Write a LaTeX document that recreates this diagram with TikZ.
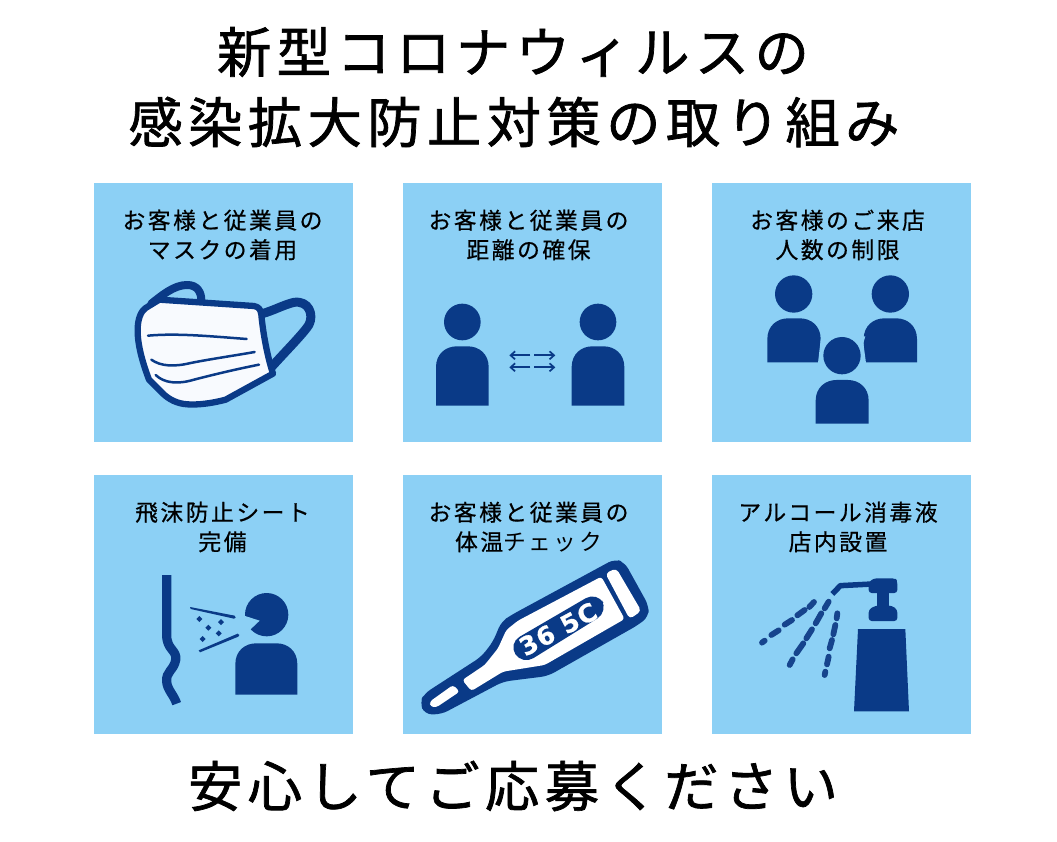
\documentclass[tikz,border=0pt]{standalone}
\usepackage{fontspec}
\usetikzlibrary{arrows.meta}
\newfontfamily\jptitle[LetterSpace=10,FakeBold=1.3]{Noto Sans CJK JP}
\newfontfamily\jplabel[LetterSpace=11,FakeBold=0.5]{Noto Sans CJK JP}
\newfontfamily\jpthin[LetterSpace=11]{Noto Sans CJK JP}
\newfontfamily\numfont[LetterSpace=6,FakeBold=0.8]{DejaVu Sans Bold}
\definecolor{panelblue}{HTML}{8CD0F5}
\definecolor{navy}{HTML}{0A3A87}
\definecolor{maskwhite}{HTML}{F8FAFE}
\tikzset{
 x=1pt,y=-1pt,
 panel/.style={fill=panelblue,draw=none,minimum width=259pt,minimum height=259pt,anchor=north west,inner sep=0pt,outer sep=0pt},
 titletext/.style={font=\jptitle\fontsize{54.3}{70}\selectfont,inner sep=0pt,align=center,text=black},
 labeltext/.style={font=\jplabel\fontsize{22.8}{29.5}\selectfont,inner sep=0pt,align=center,text=black},
 dbarrow/.style={draw=navy,line width=1.7pt,-{Straight Barb[length=4.5pt,width=8pt,line width=1.7pt]}},
 spray/.style={draw=navy!95!white,line width=5.8pt,line cap=round},
}
\newcommand{\bustfig}[4]{% left x, top y, width, height (zoom units)
 \fill[navy] (#1,#2+#4) -- (#1,#2+62)
   .. controls (#1,#2+22) and (#1+30,#2) .. (#1+62,#2)
   -- (#1+#3-62,#2)
   .. controls (#1+#3-30,#2) and (#1+#3,#2+22) .. (#1+#3,#2+62)
   -- (#1+#3,#2+#4) -- cycle;}
\begin{document}
\begin{tikzpicture}
\useasboundingbox (0,0) rectangle (1057,842);
\fill[white] (0,0) rectangle (1057,842);
\node[titletext] (t1) at (513,52) {新型コロナウィルスの};
\node[titletext] (t2) at (514,122) {感染拡大防止対策の取り組み};
\node[titletext] (t3) at (513,786) {安心してご応募ください};
\node[panel] (p1) at (94,183) {};
\node[panel] (p2) at (403,183) {};
\node[panel] (p3) at (712,183) {};
\node[panel] (p4) at (94,475) {};
\node[panel] (p5) at (403,475) {};
\node[panel] (p6) at (712,475) {};
\node[labeltext] (l1) at (222.5,235) {お客様と従業員の\\マスクの着用};
\node[labeltext] (l2) at (528.5,235) {お客様と従業員の\\距離の確保};
\node[labeltext] (l3) at (837.5,235) {お客様のご来店\\人数の制限};
\node[labeltext] (l4) at (222.5,527) {飛沫防止シート\\完備};
\node[labeltext] (l5) at (528.5,527) {お客様と従業員の\\体温{\jpthin チェック}};
\node[labeltext] (l6) at (838,527) {アルコール消毒液\\店内設置};
% ---- mask
\begin{scope}[shift={(94,183)},x=0.33333pt,y=-0.33333pt]
 \draw[navy,line width=9pt,line cap=round,line join=round] (505,392) .. controls (540,382) and (570,365) .. (600,358)
   .. controls (645,352) and (660,395) .. (645,425) .. controls (630,450) and (570,510) .. (530,555);
 \draw[navy,line width=8pt,line join=round,line cap=round] (172,362) .. controls (200,340) and (240,305) .. (280,306)
   .. controls (310,306) and (322,328) .. (322,352);
 \fill[panelblue] (243,340) .. controls (255,328) and (275,318) .. (295,328) -- (306,348) -- cycle;
 \draw[navy,fill=maskwhite,line width=6.3pt,line join=round] (196,350) -- (480,369)
   .. controls (495,372) and (500,380) .. (502,395)
   .. controls (507,450) and (520,520) .. (537,572)
   -- (395,650) .. controls (350,662) and (310,666) .. (280,664)
   .. controls (250,662) and (225,650) .. (205,630)
   -- (165,590) .. controls (150,550) and (130,490) .. (131,440)
   .. controls (131,410) and (140,385) .. (155,375) -- cycle;
 \draw[navy,line width=2.5pt,line cap=round] (162,458) .. controls (250,450) and (350,460) .. (458,468);
 \draw[navy,line width=2.5pt,line cap=round] (172,530) .. controls (200,550) and (240,552) .. (290,540) .. controls (350,528) and (420,518) .. (482,507);
 \draw[navy,line width=2.5pt,line cap=round] (185,576) .. controls (210,600) and (250,605) .. (300,590) .. controls (370,572) and (430,558) .. (495,545);
\end{scope}
% ---- distance
\begin{scope}[shift={(403,183)},x=0.33333pt,y=-0.33333pt]
 \fill[navy] (178,417) circle[radius=55];
 \fill[navy] (585,417) circle[radius=55];
 \bustfig{99}{490}{158}{178}
 \bustfig{506}{490}{158}{178}
 \coordinate (a1) at (382,517); \coordinate (a2) at (319,517);
 \coordinate (a3) at (394,517); \coordinate (a4) at (457,517);
 \coordinate (a5) at (382,553); \coordinate (a6) at (319,553);
 \coordinate (a7) at (394,553); \coordinate (a8) at (457,553);
 \draw[dbarrow] (a1) -- (a2);
 \draw[dbarrow] (a3) -- (a4);
 \draw[dbarrow] (a5) -- (a6);
 \draw[dbarrow] (a7) -- (a8);
\end{scope}
% ---- three people
\begin{scope}[shift={(712,183)},x=0.33333pt,y=-0.33333pt]
 \fill[navy] (245,333) circle[radius=56];
 \fill[navy] (535,333) circle[radius=56];
 \bustfig{166}{406}{160}{132}
 \bustfig{455}{406}{160}{132}
 \fill[panelblue] (318,540) -- (326,470) -- (340,460) -- (460,460) -- (454,480) -- (462,540) -- cycle;
 \fill[navy] (390,518) circle[radius=56];
 \bustfig{311}{591}{159}{131}
\end{scope}
% ---- droplets
\begin{scope}[shift={(94,475)},x=0.33333pt,y=-0.33333pt]
 \draw[navy,line width=9.2pt] (218,300) -- (218,480) .. controls (218,525) and (250,525) .. (245,555)
   .. controls (240,585) and (215,590) .. (218,620) .. controls (220,645) and (240,660) .. (248,686);
 \fill[navy] (518,419) circle[radius=65];
 \fill[panelblue] (444,420) -- (497,437) -- (460,472) -- (430,470) -- cycle;
 \bustfig{424}{505}{186}{154}
 \fill[navy] (288,396) -- (422,422) -- (425,428) -- (420,431) -- (290,402) -- cycle;
 \fill[navy] (314,526) -- (431,476) -- (436,480) -- (433,485) -- (318,532) -- cycle;
 \foreach \dx/\dy in {316/432,381/441,343/458,374/475,326/492}{
  \fill[navy] (\dx,\dy-9) -- (\dx+9,\dy) -- (\dx,\dy+9) -- (\dx-9,\dy) -- cycle;}
\end{scope}
% ---- thermometer
\begin{scope}[shift={(403,475)},x=0.33333pt,y=-0.33333pt]
 \fill[navy,rounded corners=7pt] (50,682) -- (65,655) -- (235,545) -- (270,500) -- (295,440) -- (325,420)
   -- (635,252) -- (665,262) -- (737,392) -- (737,425) -- (705,450) -- (435,603) -- (300,620) -- (115,718) -- (65,718) -- cycle;
 \fill[white,rounded corners=3pt] (80,680) -- (150,630) -- (170,650) -- (100,697) -- (82,695) -- cycle;
 \fill[white,rounded corners=3pt] (178,615) -- (245,570) -- (285,520) -- (310,465) -- (345,437) -- (595,305)
   -- (665,432) -- (425,570) -- (300,590) -- (205,648) -- cycle;
 \fill[white,rounded corners=4pt] (607,295) -- (640,280) -- (715,408) -- (680,432) -- cycle;
 \fill[navy,rounded corners=13pt] (316,505) -- (582,350) -- (616,410) -- (358,570) -- cycle;
 \node[rotate=28,text=white,inner sep=0pt,font=\numfont\fontsize{25}{25}\selectfont] (disp) at (465,462) {36 5C};
\end{scope}
% ---- sanitizer
\begin{scope}[shift={(712,475)},x=0.33333pt,y=-0.33333pt]
 \fill[navy] (438,462) -- (580,462) -- (591,709) -- (426,709) -- cycle;
 \draw[navy,line width=5.5pt,line join=round] (361,357) -- (385,332) -- (480,327);
 \fill[navy,rounded corners=3pt] (470,354) -- (470,322) -- (485,310) -- (550,310) -- (556,318) -- (556,354) -- cycle;
 \fill[navy] (495,350) rectangle (530,400);
 \fill[navy,rounded corners=3pt] (470,438) -- (470,404) -- (490,392) -- (540,392) -- (556,404) -- (556,438) -- cycle;
 \draw[spray] (150,503) -- (158,497);
 \draw[spray] (178,480) -- (200,466);
 \draw[spray] (218,449) -- (240,435);
 \draw[spray] (256,421) -- (278,405);
 \draw[spray] (292,396) -- (306,381);
 \draw[spray] (233,570) -- (242,553);
 \draw[spray] (253,535) -- (274,505);
 \draw[spray] (283,490) -- (300,463);
 \draw[spray] (311,445) -- (328,415);
 \draw[spray] (338,400) -- (350,380);
 \draw[spray] (338,600) -- (340,590);
 \draw[spray] (345,568) -- (350,545);
 \draw[spray] (353,520) -- (360,495);
 \draw[spray] (364,478) -- (370,450);
 \draw[spray] (374,430) -- (376,415);
\end{scope}
\end{tikzpicture}
\end{document}
